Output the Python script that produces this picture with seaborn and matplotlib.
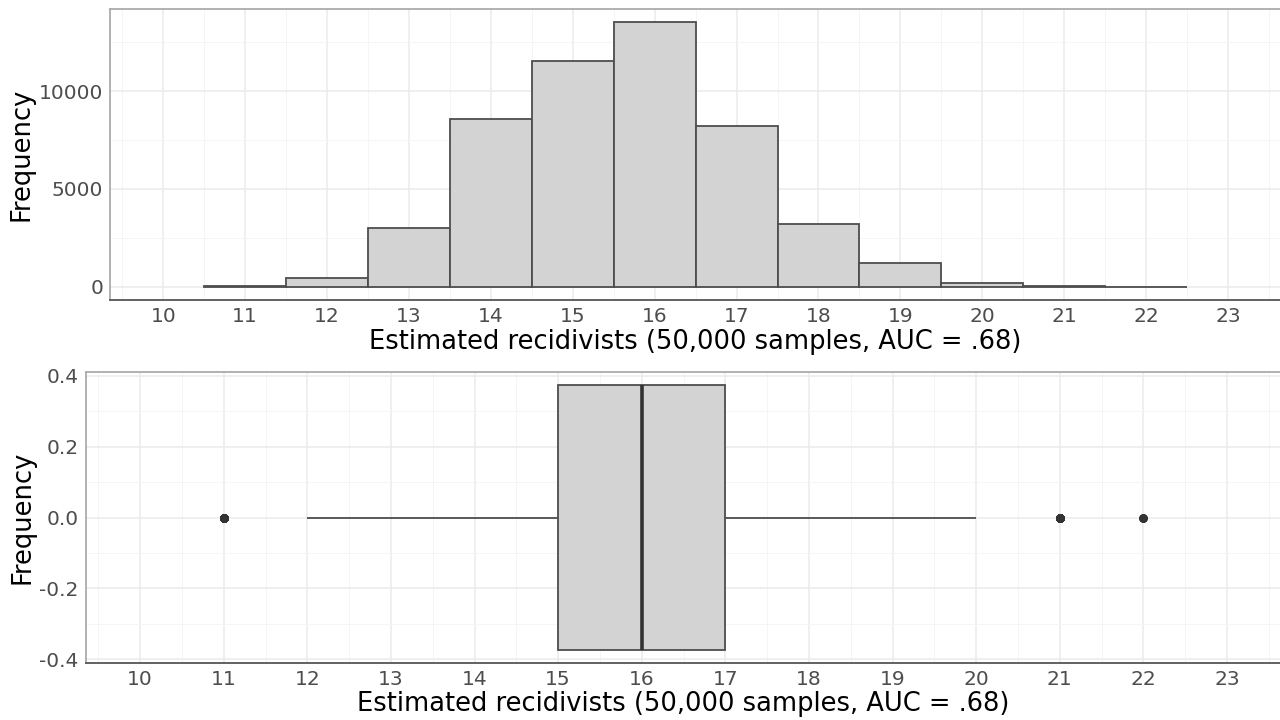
import numpy as np
import matplotlib
matplotlib.use("Agg")
import matplotlib.pyplot as plt
from matplotlib.ticker import AutoMinorLocator
import seaborn as sns

# Counts (bins centred on whole numbers)
recidivists = [11, 12, 13, 14, 15, 16, 17, 18, 19, 20, 21, 22]
counts = [50, 470, 2980, 8590, 11530, 13520, 8210, 3210, 1200, 200, 30, 5]

x_ticks = list(range(10, 24))
hist_y_ticks = [0, 5000, 10000]
box_y_ticks = [-0.4, -0.2, 0.0, 0.2, 0.4]
box_y_labels = ["-0.4", "-0.2", "0.0", "0.2", "0.4"]

x_title = "Estimated recidivists (50,000 samples, AUC = .68)"
y_title = "Frequency"

FILL = "#D3D3D3"
EDGE = "#4D4D4D"
DOT = "#333333"


def style_axes(ax):
    ax.set_facecolor("white")
    ax.set_axisbelow(True)
    ax.xaxis.set_minor_locator(AutoMinorLocator(2))
    ax.yaxis.set_minor_locator(AutoMinorLocator(2))
    ax.grid(True, which="major", color="#EBEBEB", linewidth=1.1)
    ax.grid(True, which="minor", color="#F4F4F4", linewidth=0.6)
    ax.spines["top"].set_color("#ABABAB")
    ax.spines["left"].set_color("#ABABAB")
    ax.spines["bottom"].set_color("#555555")
    ax.spines["right"].set_visible(False)
    for s in ax.spines.values():
        s.set_linewidth(1.3)
    ax.tick_params(which="major", length=3, width=1, color="#333333",
                   labelsize=14.5, labelcolor="#4D4D4D", pad=2)
    ax.tick_params(which="minor", length=0)
    ax.set_xticks(x_ticks)
    ax.set_xlim(9.35, 23.65)
    ax.set_xlabel(x_title, fontsize=18.5, color="black", labelpad=2)
    ax.set_ylabel(y_title, fontsize=18.5, color="black", labelpad=3)


def main():
    sns.set_theme(style="white")
    plt.rcParams["font.family"] = ["DejaVu Sans"]

    samples = np.repeat(recidivists, counts)

    fig = plt.figure(figsize=(12.8, 7.2), dpi=100)
    ax1 = fig.add_axes([0.0859, 0.5833, 1.001 - 0.0859, 0.4042])
    ax2 = fig.add_axes([0.067, 0.0796, 1.001 - 0.067, 0.4033])

    # Histogram
    sns.histplot(x=samples, discrete=True, color=FILL, edgecolor=EDGE,
                 linewidth=1.3, alpha=1, ax=ax1)
    ax1.set_ylim(-676, 14196)
    ax1.set_yticks(hist_y_ticks)
    style_axes(ax1)

    # Boxplot
    sns.boxplot(x=samples, ax=ax2, width=0.75, color=FILL, saturation=1,
                linecolor=EDGE, linewidth=1.3, whis=1.5, showcaps=False,
                fliersize=5,
                flierprops=dict(marker="o", markerfacecolor=DOT,
                                markeredgecolor=DOT),
                medianprops=dict(color=DOT, linewidth=2.6))
    ax2.set_ylim(-0.41, 0.41)
    ax2.set_yticks(box_y_ticks)
    ax2.set_yticklabels(box_y_labels)
    style_axes(ax2)

    fig.savefig("out.png", dpi=100)


if __name__ == "__main__":
    main()
